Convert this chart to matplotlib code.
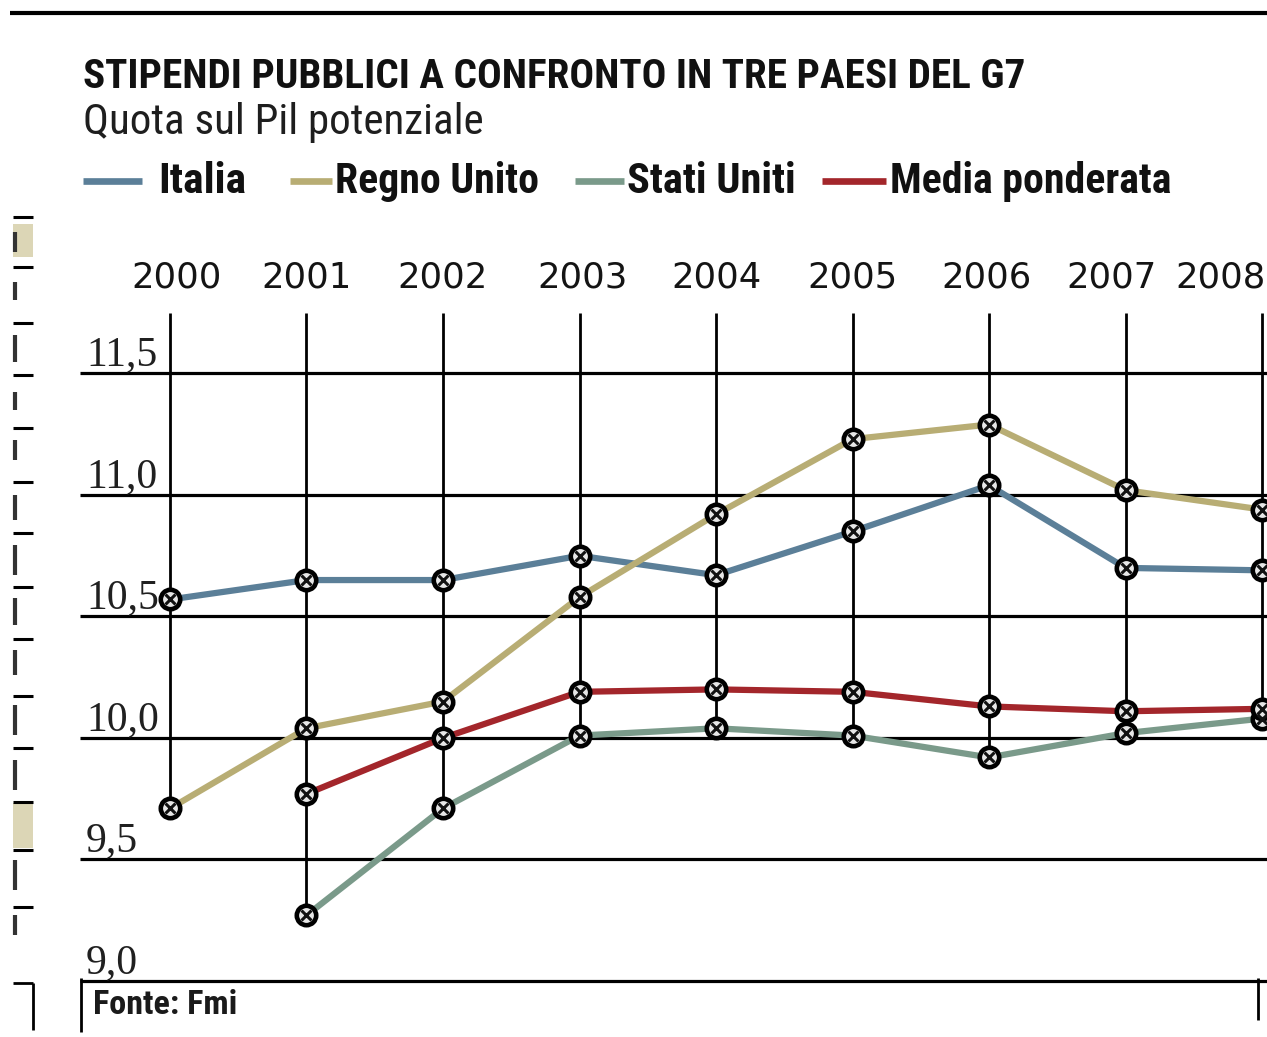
import matplotlib
matplotlib.use("Agg")
import numpy as np
import matplotlib.pyplot as plt
import matplotlib.transforms as mtransforms
from matplotlib import font_manager
from matplotlib.lines import Line2D
from matplotlib.patches import Rectangle

# ---- data: public wages as share of potential GDP (%) ----
years = [2000, 2001, 2002, 2003, 2004, 2005, 2006, 2007, 2008]
italia = [10.57, 10.65, 10.65, 10.75, 10.67, 10.85, 11.04, 10.70, 10.69]
regno_unito = [9.71, 10.04, 10.15, 10.58, 10.92, 11.23, 11.29, 11.02, 10.94]
stati_uniti = [np.nan, 9.27, 9.71, 10.01, 10.04, 10.01, 9.92, 10.02, 10.08]
media_ponderata = [np.nan, 9.77, 10.00, 10.19, 10.20, 10.19, 10.13, 10.11, 10.12]

series_names = ["Italia", "Regno Unito", "Stati Uniti", "Media ponderata"]
series_colors = ["#5b7f98", "#b8ad74", "#7a9a8a", "#a3262b"]

y_ticks = [9.0, 9.5, 10.0, 10.5, 11.0, 11.5]
y_tick_labels = ["9,0", "9,5", "10,0", "10,5", "11,0", "11,5"]

title = "STIPENDI PUBBLICI A CONFRONTO IN TRE PAESI DEL G7"
subtitle = "Quota sul Pil potenziale"
source = "Fonte: Fmi"

# ---- fonts ----
available = {f.name for f in font_manager.fontManager.ttflist}


def first_font(*candidates):
    for c in candidates:
        if c in available:
            return c
    return "DejaVu Sans"


cond_font = first_font("Liberation Sans Narrow", "Roboto Condensed",
                       "Open Sans Condensed", "DejaVu Sans")
serif_font = first_font("Liberation Serif", "DejaVu Serif")

W, H = 1267, 1037
fig = plt.figure(figsize=(W / 100, H / 100), dpi=100)
fig.patch.set_facecolor("white")
renderer = fig.canvas.get_renderer()


def fx(x):
    return x / W


def fy(y):
    return 1 - y / H


def fig_line(x0, y0, x1, y1, lw=2.2, color="black"):
    fig.add_artist(Line2D([fx(x0), fx(x1)], [fy(y0), fy(y1)],
                          lw=lw, color=color, transform=fig.transFigure,
                          solid_capstyle="butt"))


def fit_text(x, y, s, width_px, weight="bold", family=None, color="#111111",
             stretch="condensed"):
    t = fig.text(fx(x), fy(y), s, ha="left", va="baseline",
                 fontsize=20, fontweight=weight, color=color,
                 family=family or cond_font, fontstretch=stretch)
    bb = t.get_window_extent(renderer)
    t.set_fontsize(20 * width_px / bb.width)
    return t


# ---- header ----
fig_line(10, 13, W, 13, lw=3.0)
fit_text(83, 88, title, 942, weight="bold")
fit_text(83, 134, subtitle, 400, weight="normal", color="#1e1e1e")

legend_layout = [  # (line start, line end, text start, text width)
    (83, 142, 158, 88),
    (290, 332, 335, 203),
    (575, 624, 627, 168),
    (822, 886, 890, 280),
]
for name, col, (l0, l1, t0, tw) in zip(series_names, series_colors, legend_layout):
    fig_line(l0, 181, l1, 181, lw=4.8, color=col)
    fit_text(t0, 193, name, tw, weight="bold")

# ---- main axes ----
px_per_unit = 243.0
ax_left, ax_right = 80, W
ax_top, ax_bottom = 300, 981
ax = fig.add_axes([fx(ax_left), fy(ax_bottom), (ax_right - ax_left) / W,
                   (ax_bottom - ax_top) / H])
ax.set_facecolor("none")
for sp in ax.spines.values():
    sp.set_visible(False)

step = 136.5  # pixels per year
ax.set_xlim(2000 - (170 - ax_left) / step, 2008 + (ax_right - 1262) / step)
ax.set_ylim(9.0, 9.0 + (ax_bottom - ax_top) / px_per_unit)
ax.set_xticks([])
ax.set_yticks([])

# horizontal grid
ax.hlines(y_ticks, *ax.get_xlim(), colors="black", lw=2.3, zorder=1,
          clip_on=False)

# vertical year lines, from the top down to the lowest value of each year
all_series = [italia, regno_unito, stati_uniti, media_ponderata]
lowest = np.nanmin(np.array(all_series, dtype=float), axis=0)
ax.vlines(years, lowest, 11.75, colors="black", lw=2.0, zorder=1)

# year labels above the vertical lines (the last ones nudged left)
year_label_shift = [7, 0, 0, 3, 0, 0, -2, -14, -42]  # pixels
for yr, dx in zip(years, year_label_shift):
    tr = mtransforms.offset_copy(ax.get_xaxis_transform(), fig=fig,
                                 x=dx * 0.72, y=0, units="points")
    ax.text(yr, 1.0 + 23 / (ax_bottom - ax_top), str(yr), transform=tr,
            ha="center", va="center", fontsize=25.5, color="#141414",
            family="DejaVu Sans", clip_on=False)

# value labels sitting above each gridline
lab_trans = mtransforms.offset_copy(ax.get_yaxis_transform(), fig=fig,
                                    x=0, y=6, units="points")
for v, s in zip(y_ticks, y_tick_labels):
    ax.text(6 / (ax_right - ax_left), v, s, transform=lab_trans,
            ha="left", va="baseline", fontsize=30, family=serif_font,
            color="#202020", zorder=2)

# series lines and markers
for vals, col in zip(all_series, series_colors):
    ax.plot(years, vals, color=col, lw=4.5, solid_capstyle="round", zorder=3)
for vals in all_series:
    ax.plot(years, vals, ls="none", marker="o", ms=14, mew=3.3,
            mec="black", mfc="#e6e6e6", zorder=4, clip_on=False)
    ax.plot(years, vals, ls="none", marker="x", ms=6.5, mew=2.2,
            color="#111111", zorder=5, clip_on=False)

# ---- source box ----
fig_line(81, 978, 81, 1032, lw=2.0)
fig_line(1258, 978, 1258, 1020, lw=2.0)
fit_text(93, 1014, source, 144, weight="bold", color="#1a1a1a")

# ---- edge of the neighbouring column ----
edge_ticks = [217, 267, 323, 375, 428, 482, 533, 587, 639, 696, 748, 802, 850, 907]
edge_marks = [(232, 252), (282, 300), (335, 362), (392, 410), (440, 460),
              (495, 520), (545, 575), (598, 625), (650, 675), (705, 735),
              (760, 790), (860, 890), (915, 935)]
fig.add_artist(Rectangle((fx(13), fy(257)), fx(20), 33 / H, color="#dcd6b6",
                         transform=fig.transFigure, lw=0))
fig.add_artist(Rectangle((fx(13), fy(848)), fx(20), 45 / H, color="#dcd6b6",
                         transform=fig.transFigure, lw=0))
for y in edge_ticks:
    fig_line(13, y, 33, y, lw=2.2)
for y0, y1 in edge_marks:
    fig_line(15, y0, 15, y1, lw=3.0, color="#333333")
fig_line(13, 983, 33, 983, lw=2.0)
fig_line(33, 983, 33, 1030, lw=2.0)

fig.savefig("out.png", dpi=100, facecolor="white")
